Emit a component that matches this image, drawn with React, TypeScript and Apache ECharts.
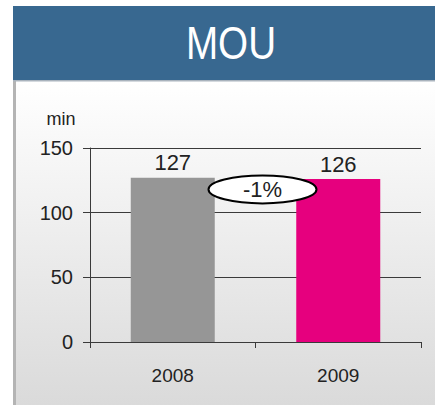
import React, { useEffect, useRef } from "react";
import * as echarts from "echarts";

const categories = ["2008", "2009"];
const values = [127, 126];
const barColors = ["#969696", "#e6007e"];
const yTicks = { min: 0, max: 150, interval: 50 };
const titleText = "MOU";
const unitText = "min";
const changeText = "-1%";

export default function App() {
  const ref = useRef<HTMLDivElement>(null);
  useEffect(() => {
    if (!ref.current) return;
    const chart = echarts.init(ref.current, null, { renderer: "svg" });
    const font = "Liberation Sans, Arial, sans-serif";
    chart.setOption({
      animation: false,
      grid: { left: 90, right: 14, top: 148, bottom: 63, containLabel: false },
      xAxis: {
        type: "category",
        data: categories,
        axisLine: { lineStyle: { color: "#3a3a3a", width: 1 } },
        axisTick: { show: true, length: 6, lineStyle: { color: "#3a3a3a" } },
        axisLabel: { color: "#222", fontSize: 19, fontFamily: font, margin: 24 },
      },
      yAxis: {
        type: "value",
        min: yTicks.min,
        max: yTicks.max,
        interval: yTicks.interval,
        axisLine: { show: true, lineStyle: { color: "#3a3a3a", width: 1 } },
        axisTick: { show: true, length: 7, lineStyle: { color: "#3a3a3a" } },
        axisLabel: { color: "#222", fontSize: 20, fontFamily: font, margin: 17 },
        splitLine: { lineStyle: { color: "#3a3a3a", width: 1 } },
      },
      series: [
        {
          type: "bar",
          barWidth: 84,
          data: values.map((v, i) => ({ value: v, itemStyle: { color: barColors[i] } })),
          label: {
            show: true,
            position: "top",
            distance: 4,
            color: "#222",
            fontSize: 22,
            fontFamily: font,
          },
        },
      ],
    });
    const p0 = chart.convertToPixel({ xAxisIndex: 0, yAxisIndex: 0 } as any, [0, values[0]]) as number[];
    const p1 = chart.convertToPixel({ xAxisIndex: 0, yAxisIndex: 0 } as any, [1, values[1]]) as number[];
    const cx = (p0[0] + p1[0]) / 2 + 7;
    const cy = (p0[1] + p1[1]) / 2 + 11;
    chart.setOption({
      graphic: [
        {
          type: "rect",
          z: -10,
          silent: true,
          shape: { x: 16, y: 81, width: 419, height: 324 },
          style: {
            fill: new echarts.graphic.LinearGradient(0, 0, 0, 1, [
              { offset: 0, color: "#ffffff" },
              { offset: 1, color: "#dadada" },
            ]),
          },
        },
        {
          type: "rect",
          z: -5,
          silent: true,
          shape: { x: 13, y: 81, width: 3, height: 324 },
          style: { fill: "#b4b4b4" },
        },
        {
          type: "rect",
          silent: true,
          shape: { x: 13, y: 6, width: 422, height: 75 },
          style: { fill: "#386890" },
        },
        {
          type: "rect",
          silent: true,
          shape: { x: 13, y: 80, width: 422, height: 1.5 },
          style: { fill: "#a9b3bd" },
        },
        {
          type: "text",
          x: 231,
          y: 43,
          scaleX: 0.84,
          style: {
            text: titleText,
            fill: "#ffffff",
            font: "46px " + font,
            textAlign: "center",
            textVerticalAlign: "middle",
          },
        },
        {
          type: "text",
          x: 61,
          y: 119,
          style: {
            text: unitText,
            fill: "#222",
            font: "18px " + font,
            textAlign: "center",
            textVerticalAlign: "middle",
          },
        },
        {
          type: "ellipse",
          z: 100,
          shape: { cx, cy, rx: 54, ry: 14 },
          style: { fill: "#ffffff", stroke: "#000000", lineWidth: 2 },
        },
        {
          type: "text",
          z: 101,
          x: cx,
          y: cy,
          style: {
            text: changeText,
            fill: "#222",
            font: "22px " + font,
            textAlign: "center",
            textVerticalAlign: "middle",
          },
        },
      ],
    });
    return () => chart.dispose();
  }, []);
  return (
    <div
      ref={ref}
      style={{ position: "absolute", left: 0, top: 0, width: 435, height: 405 }}
    />
  );
}
